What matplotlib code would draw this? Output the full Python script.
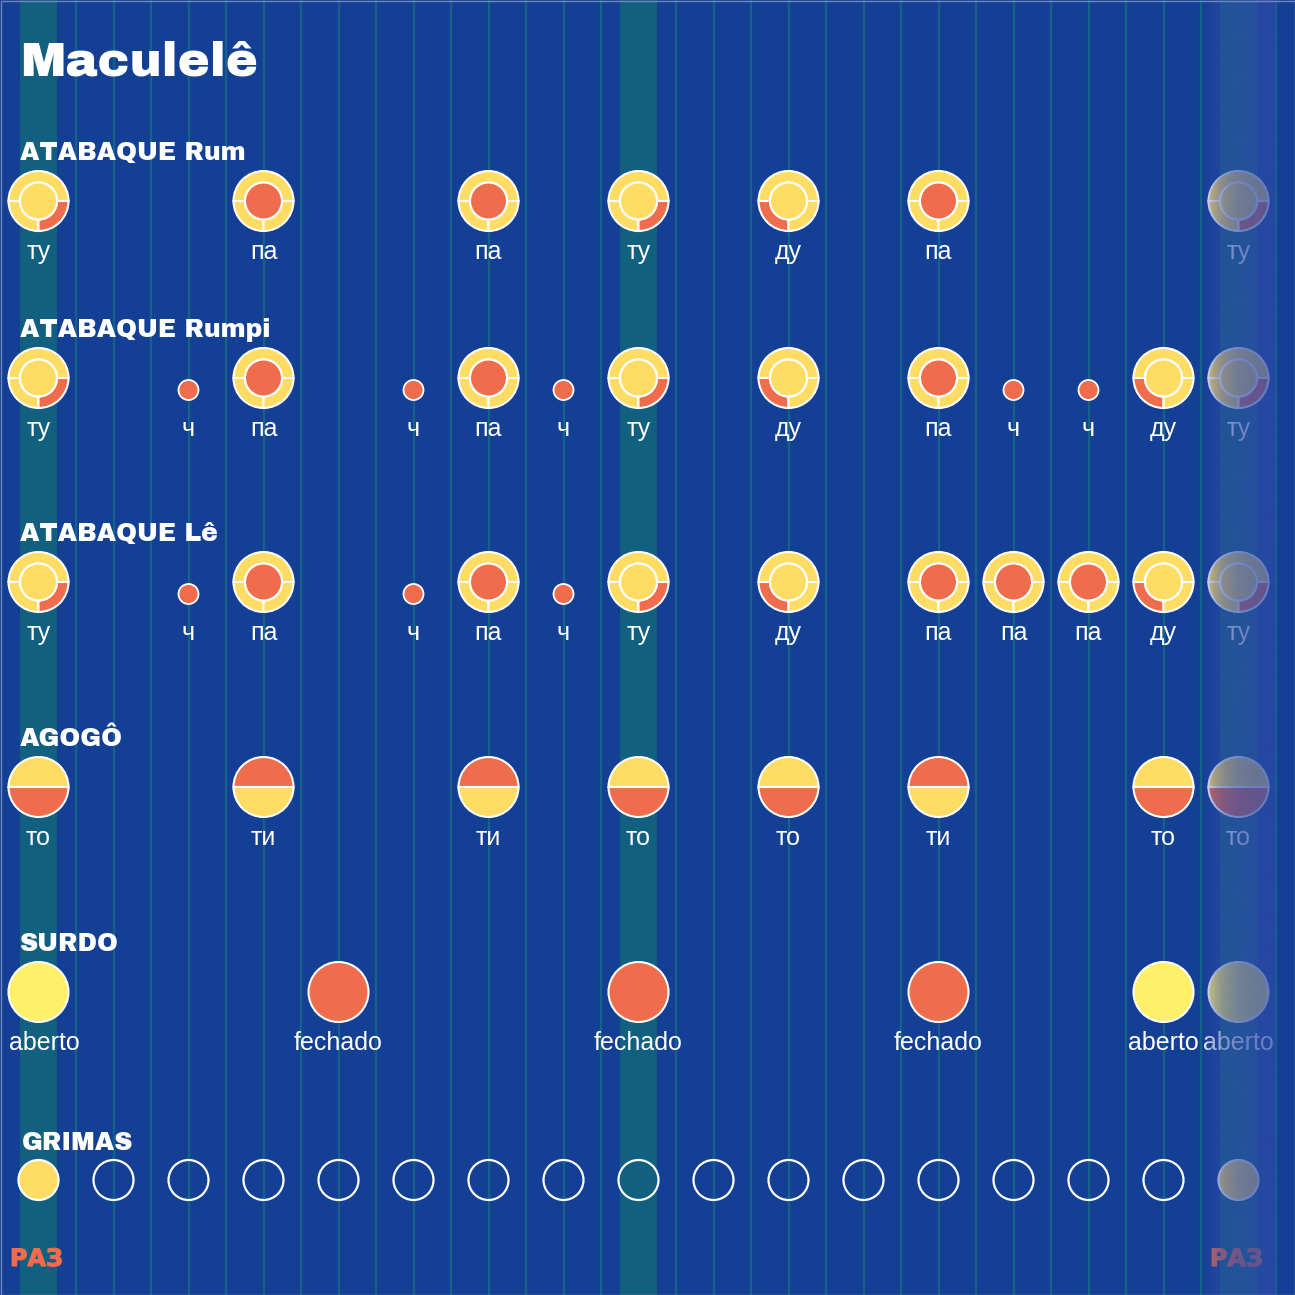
import numpy as np
import matplotlib
matplotlib.use('Agg')
import matplotlib.pyplot as plt
import matplotlib.patheffects as pe
from matplotlib import font_manager as fm
from matplotlib.patches import Circle, Wedge, Rectangle

# ---------------- data ----------------
title = "Maculelê"
n_beats = 16                      # one cycle; beat 16 = faded repeat of beat 0
accent_beats = [0, 8, 16]         # highlighted columns
downbeat_label = "РАЗ"

rum_beats = [0, 3, 6, 8, 10, 12]
rum_strokes = ["ту", "па", "па", "ту", "ду", "па"]

rumpi_beats = [0, 2, 3, 5, 6, 7, 8, 10, 12, 13, 14, 15]
rumpi_strokes = ["ту", "ч", "па", "ч", "па", "ч", "ту", "ду", "па", "ч", "ч", "ду"]

le_beats = [0, 2, 3, 5, 6, 7, 8, 10, 12, 13, 14, 15]
le_strokes = ["ту", "ч", "па", "ч", "па", "ч", "ту", "ду", "па", "па", "па", "ду"]

agogo_beats = [0, 3, 6, 8, 10, 12, 15]
agogo_strokes = ["то", "ти", "ти", "то", "то", "ти", "то"]

surdo_beats = [0, 4, 8, 12, 15]
surdo_strokes = ["aberto", "fechado", "fechado", "fechado", "aberto"]

grimas_filled = [0]

instrument_names = ["ATABAQUE Rum", "ATABAQUE Rumpi", "ATABAQUE Lê", "AGOGÔ", "SURDO", "GRIMAS"]

# ---------------- style ----------------
BG = '#133f94'
BAND = '#12607f'
LINE = '#14628a'
YEL = '#ffdc64'
RED = '#ef6c4d'
SURDO_YEL = '#fff06a'
W = 'white'


def have(fam):
    try:
        fm.findfont(fm.FontProperties(family=fam), fallback_to_default=False)
        return True
    except Exception:
        return False

if have('Archivo Black'):
    HEAVY = dict(family=['Archivo Black', 'DejaVu Sans'])
    HEAVY_FX = None
else:
    HEAVY = dict(family=['DejaVu Sans'], fontweight='bold')
    HEAVY_FX = 0.6
CYR_HEAVY = dict(family=['DejaVu Sans'], fontweight='bold')

X0, STEP = 38.5, 75.0
def bx(i):
    return X0 + STEP * i

row_y = [201, 378, 582, 787, 992, 1180]

fig = plt.figure(figsize=(12.95, 12.95), dpi=100)
fig.patch.set_facecolor(BG)
ax = fig.add_axes([0, 0, 1, 1])
ax.set_facecolor(BG)
ax.set_xlim(0, 1295)
ax.set_ylim(1295, 0)
ax.axis('off')

# grid lines (every half beat)
for k in range(0, 2 * (n_beats + 1) + 1):
    ax.plot([X0 + STEP / 2 * k] * 2, [0, 1295], color=LINE, lw=1.7, zorder=1)
# highlighted columns
for b in accent_beats:
    ax.add_patch(Rectangle((bx(b) - STEP / 4, 0), STEP / 2, 1295, fc=BAND, ec='none', zorder=2))

LABEL_FONT = dict(family=['Liberation Sans', 'DejaVu Sans'], fontsize=18, color=W)

def heavy_text(x, y, s, size, color, ha='left', font=None, fx=None):
    kw = dict(font or HEAVY)
    fx = fx if fx is not None else HEAVY_FX
    if fx:
        kw['path_effects'] = [pe.withStroke(linewidth=fx, foreground=color)]
    return ax.text(x, y, s, ha=ha, va='baseline', fontsize=size, color=color, zorder=5, **kw)

def label(x, y, s):
    ax.text(x, y + 58, s, ha='center', va='baseline', zorder=5, **LABEL_FONT)

R_OUT, R_IN = 30, 18.5

def drum(x, y, s):
    if s == 'ч':
        ax.add_patch(Circle((x, y + 12), 10, fc=RED, ec=W, lw=1.3, zorder=4))
        label(x, y, s)
        return
    inner = RED if s == 'па' else YEL
    br = RED if s == 'ту' else YEL
    bl = RED if s == 'ду' else YEL
    segs = [(180, 360, YEL), (90, 180, bl), (0, 90, br)]
    for t1, t2, c in segs:
        ax.add_patch(Wedge((x, y), R_OUT, t1, t2, width=R_OUT - R_IN, fc=c, ec=W, lw=1.5, zorder=4))
    ax.add_patch(Circle((x, y), R_IN, fc=inner, ec=W, lw=1.5, zorder=4))
    label(x, y, s)

def agogo(x, y, s):
    top, bot = (YEL, RED) if s == 'то' else (RED, YEL)
    ax.add_patch(Wedge((x, y), R_OUT, 180, 360, fc=top, ec=W, lw=1.5, zorder=4))
    ax.add_patch(Wedge((x, y), R_OUT, 0, 180, fc=bot, ec=W, lw=1.5, zorder=4))
    label(x, y, s)

texts_to_clamp = []
def surdo(x, y, s):
    c = SURDO_YEL if s == 'aberto' else RED
    ax.add_patch(Circle((x, y), R_OUT, fc=c, ec=W, lw=1.5, zorder=4))
    t = ax.text(x, y + 58, s, ha='center', va='baseline', zorder=5, **LABEL_FONT)
    texts_to_clamp.append(t)

def with_repeat(beats, strokes):
    out = list(zip(beats, strokes))
    if 0 in beats:
        out.append((n_beats, strokes[beats.index(0)]))
    return out

rows = [
    (rum_beats, rum_strokes, drum),
    (rumpi_beats, rumpi_strokes, drum),
    (le_beats, le_strokes, drum),
    (agogo_beats, agogo_strokes, agogo),
    (surdo_beats, surdo_strokes, surdo),
]

t_title = heavy_text(20, 75, title, 34, W)

headers = []
for (beats, strokes, fn), name, y in zip(rows, instrument_names, row_y):
    headers.append(heavy_text(20, y - 41, name, 17, W))
    for b, s in with_repeat(beats, strokes):
        fn(bx(b), y, s)

# grimas
gy = row_y[5]
headers.append(heavy_text(22, gy - 30, instrument_names[5], 17, W))
for b in range(n_beats + 1):
    filled = (b % n_beats) in grimas_filled
    ax.add_patch(Circle((bx(b), gy), 20, fc=YEL if filled else 'none', ec=W, lw=1.6, zorder=4))

# downbeat labels
downs = [heavy_text(bx(b) - 2, 1266, downbeat_label, 18, RED, ha='center', font=CYR_HEAVY, fx=0.8)
         for b in (0, n_beats)]

fig.canvas.draw()
rend = fig.canvas.get_renderer()
inv = ax.transData.inverted()

def width_px(t):
    return t.get_window_extent(rend).width

# fit sizes to reference widths
t_title.set_fontsize(t_title.get_fontsize() * 238 / width_px(t_title))
s_head = headers[0].get_fontsize() * 226 / width_px(headers[0])
for h in headers:
    h.set_fontsize(s_head)
s_down = downs[0].get_fontsize() * 53 / width_px(downs[0])
for d in downs:
    d.set_fontsize(s_down)

# keep labels inside the left edge
for t in texts_to_clamp:
    bb = t.get_window_extent(rend)
    x0 = inv.transform((bb.x0, bb.y0))[0]
    if x0 < 9:
        xx, yy = t.get_position()
        t.set_position((xx + (9 - x0), yy))

# fade overlay on the repeated beat
ox0, ox1 = bx(n_beats) - STEP / 2, bx(n_beats) + STEP / 2
npx = 300
xs = np.linspace(0, ox1 - ox0, npx)
grad = np.zeros((1, npx, 4))
grad[..., 0] = 45 / 255
grad[..., 1] = 76 / 255
grad[..., 2] = 168 / 255
grad[..., 3] = 0.74 * (1 - np.exp(-xs / 16.0))
ax.imshow(grad, extent=(ox0, ox1, 1295, 0), aspect='auto', interpolation='bilinear', zorder=10)
ax.set_xlim(0, 1295)
ax.set_ylim(1295, 0)

ax.add_patch(Rectangle((0.5, 0.5), 1294, 1294, fill=False, ec='#6d86c0', lw=1, zorder=11))

fig.savefig('out.png', dpi=100, facecolor=BG)
